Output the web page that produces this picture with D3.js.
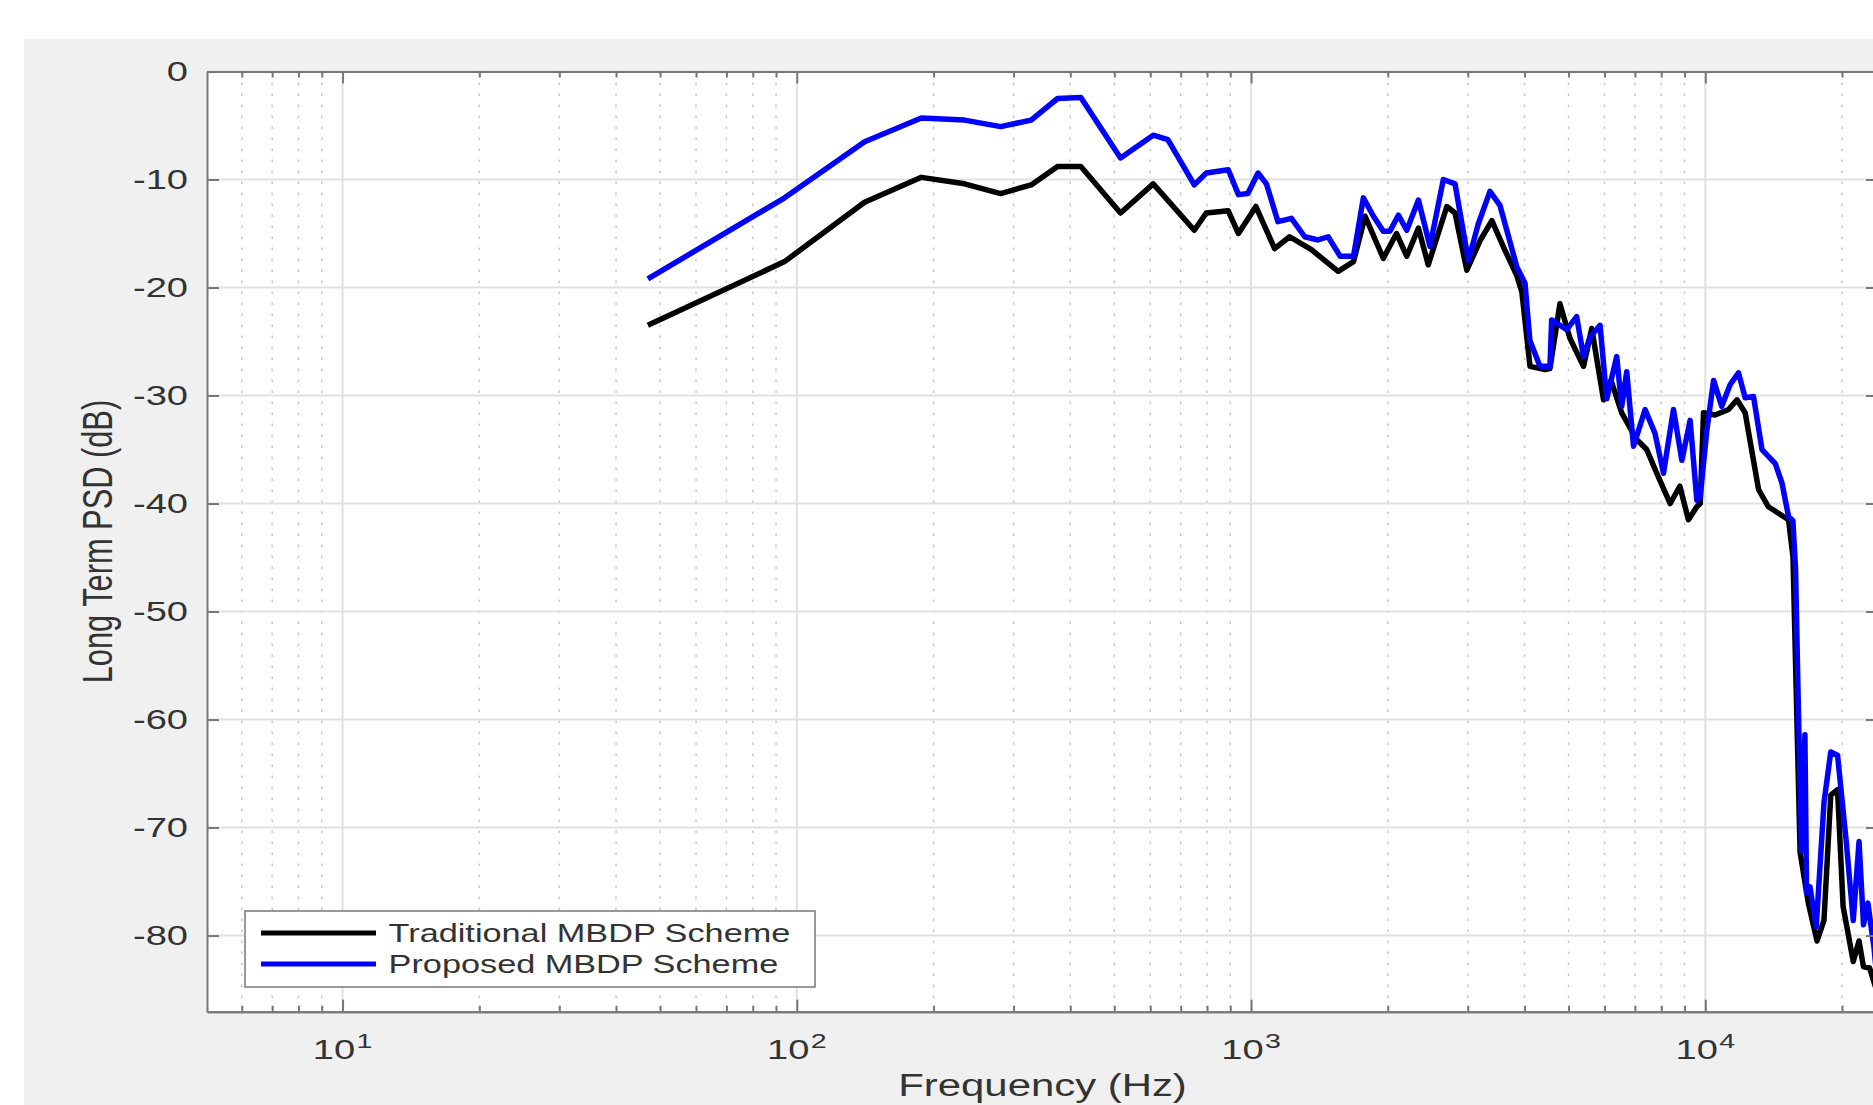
<!DOCTYPE html>
<html>
<head>
<meta charset="utf-8">
<script src="https://cdn.jsdelivr.net/npm/d3@7"></script>
<style>
  body { margin: 0; background: #fff; }
  svg { display: block; font-family: "Liberation Sans", Arial, Helvetica, sans-serif; }
</style>
</head>
<body>
<svg width="1873" height="1105"></svg>
<script>
// values (Hz, dB)
// traditional scheme (black)
var tradFreq = [47, 94, 141, 188, 234, 281, 328, 375, 422, 516,
  609, 750, 797, 891, 938, 1025, 1127, 1216, 1358, 1555,
  1681, 1783, 1955, 2090, 2202, 2336, 2455, 2698, 2812, 2985,
  3199, 3390, 3590, 3847, 3946, 4113, 4437, 4550, 4786, 5035,
  5394, 5623, 5970, 6200, 6546, 7070, 7430, 7820, 8370, 8790,
  9180, 9580, 9745, 9910, 10510, 11250, 11740, 12240, 13100, 13770,
  14490, 15250, 15600, 16170, 16860, 17620, 18250, 18890, 19550, 20110,
  21170, 21800, 22300, 23000, 24000];
var tradPsd = [-23.5, -17.6, -12.1, -9.8, -10.4, -11.3, -10.5, -8.8, -8.8, -13.1,
  -10.4, -14.7, -13.1, -12.9, -15.0, -12.5, -16.4, -15.3, -16.5, -18.5,
  -17.6, -13.4, -17.3, -15.0, -17.1, -14.5, -17.9, -12.5, -13.1, -18.4,
  -15.6, -13.8, -16.2, -18.9, -20.4, -27.3, -27.6, -27.5, -21.5, -24.7,
  -27.3, -23.8, -30.4, -28.6, -31.6, -34.1, -35.0, -37.2, -40.0, -38.4,
  -41.5, -40.3, -40.0, -31.6, -31.8, -31.3, -30.4, -31.6, -38.7, -40.3,
  -40.9, -41.5, -45.0, -72.3, -77.0, -80.5, -78.6, -67.0, -66.5, -77.3,
  -82.4, -80.5, -82.9, -83.0, -85.5];

// proposed scheme (blue)
var propFreq = [47, 94, 141, 188, 234, 281, 328, 375, 422, 516,
  609, 656, 750, 797, 891, 938, 984, 1036, 1081, 1146,
  1227, 1313, 1404, 1478, 1571, 1681, 1767, 1860, 1955, 2022,
  2110, 2202, 2336, 2477, 2650, 2812, 3009, 3165, 3357, 3532,
  3656, 3847, 4010, 4110, 4325, 4550, 4590, 4786, 4955, 5210,
  5394, 5575, 5866, 6067, 6382, 6546, 6715, 6950, 7370, 7750,
  8090, 8510, 8880, 9260, 9580, 9745, 10080, 10430, 10870, 11340,
  11830, 12240, 12770, 13330, 14260, 14750, 15250, 15590, 15800, 16060,
  16290, 16570, 16710, 17000, 17550, 18250, 18890, 19550, 20420, 21170,
  21800, 22300, 22800, 23500, 24000];
var propPsd = [-19.2, -11.7, -6.5, -4.3, -4.5, -5.1, -4.5, -2.5, -2.4, -8.0,
  -5.9, -6.3, -10.5, -9.4, -9.1, -11.4, -11.3, -9.4, -10.4, -13.9,
  -13.6, -15.3, -15.6, -15.3, -17.1, -17.1, -11.7, -13.4, -14.8, -14.8,
  -13.3, -14.7, -11.9, -16.2, -10.0, -10.4, -17.5, -14.1, -11.1, -12.4,
  -14.7, -18.1, -19.6, -24.9, -27.3, -27.3, -23.0, -23.5, -23.9, -22.7,
  -26.4, -24.6, -23.5, -30.3, -26.4, -31.0, -27.8, -34.7, -31.3, -33.5,
  -37.2, -31.3, -36.0, -32.3, -39.7, -39.4, -33.2, -28.6, -31.0, -29.0,
  -27.9, -30.2, -30.1, -35.0, -36.3, -38.1, -41.2, -41.6, -46.0, -60.7,
  -72.2, -61.4, -76.0, -75.5, -79.2, -67.7, -63.0, -63.3, -71.2, -78.6,
  -71.3, -79.0, -77.0, -81.0, -85.0];

var seriesNames = ["Traditional MBDP Scheme", "Proposed MBDP Scheme"];

// axis ticks
var yTicks = [0, -10, -20, -30, -40, -50, -60, -70, -80];
var xMajor = [10, 100, 1000, 10000];
var xExp = ["1", "2", "3", "4"];
var xMinor = [6, 7, 8, 9, 20, 30, 40, 50, 60, 70, 80, 90, 200, 300, 400, 500, 600, 700, 800, 900,
  2000, 3000, 4000, 5000, 6000, 7000, 8000, 9000, 20000];

var svg = d3.select("svg"),
    W = +svg.attr("width"),
    H = +svg.attr("height");

// plot box (right side runs just past the picture edge)
var boxL = 207, boxR = 1878, boxT = 71.5, boxB = 1011.7;
var sx = 1.36;           // the original picture is stretched sideways
var textCol = "#333", axisCol = "#777";
var lineW = 5.5;

var x = d3.scaleLog().domain([5.03, 24000]).range([boxL, boxR]);
var y = d3.scaleLinear().domain([-87.05, 0]).range([boxB, boxT]);

//figure background
svg.append("rect").attr("x", 24).attr("y", 39)
    .attr("width", W - 24).attr("height", H - 39).attr("fill", "#f0f0f0");

svg.append("rect").attr("x", boxL).attr("y", boxT)
    .attr("width", boxR - boxL).attr("height", boxB - boxT).attr("fill", "#fff");

//minor grid (dotted, x only)
svg.append("g").selectAll("line").data(xMinor).enter().append("line")
    .attr("x1", function(d) { return x(d); }).attr("x2", function(d) { return x(d); })
    .attr("y1", boxT).attr("y2", boxB)
    .attr("stroke", "#c6c6c6").attr("stroke-width", 1.5)
    .attr("stroke-dasharray", "2.5,8.5");

//major grid
var grid = svg.append("g").attr("stroke", "#e1e1e1").attr("stroke-width", 2);
grid.selectAll("line.gx").data(xMajor).enter().append("line")
    .attr("x1", function(d) { return x(d); }).attr("x2", function(d) { return x(d); })
    .attr("y1", boxT).attr("y2", boxB);
grid.selectAll("line.gy").data(yTicks).enter().append("line")
    .attr("x1", boxL).attr("x2", boxR)
    .attr("y1", function(d) { return y(d); }).attr("y2", function(d) { return y(d); });

//lines
svg.append("defs").append("clipPath").attr("id", "clip")
  .append("rect").attr("x", boxL).attr("y", boxT)
    .attr("width", boxR - boxL).attr("height", boxB - boxT);

var line = d3.line()
    .x(function(d) { return x(d[0]); })
    .y(function(d) { return y(d[1]); });

var plot = svg.append("g").attr("clip-path", "url(#clip)");
plot.append("path")
    .datum(d3.zip(tradFreq, tradPsd))
    .attr("fill", "none").attr("stroke", "#000").attr("stroke-width", lineW)
    .attr("stroke-linejoin", "round")
    .attr("d", line);
plot.append("path")
    .datum(d3.zip(propFreq, propPsd))
    .attr("fill", "none").attr("stroke", "#0000ff").attr("stroke-width", lineW)
    .attr("stroke-linejoin", "round")
    .attr("d", line);

//axes, ticks pointing inward
function styleAxis(g) {
  g.select(".domain").attr("stroke", axisCol).attr("stroke-width", 2);
  g.selectAll(".tick line").attr("stroke", axisCol).attr("stroke-width", 2);
}

svg.append("g").attr("transform", "translate(0," + boxB + ")")
    .call(d3.axisBottom(x).tickValues(xMajor).tickSize(-12).tickSizeOuter(0).tickFormat(""))
    .call(styleAxis);
svg.append("g").attr("transform", "translate(0," + boxB + ")")
    .call(d3.axisBottom(x).tickValues(xMinor).tickSize(-6).tickSizeOuter(0).tickFormat(""))
    .call(styleAxis);
svg.append("g").attr("transform", "translate(0," + boxT + ")")
    .call(d3.axisTop(x).tickValues(xMajor).tickSize(-12).tickSizeOuter(0).tickFormat(""))
    .call(styleAxis);
svg.append("g").attr("transform", "translate(0," + boxT + ")")
    .call(d3.axisTop(x).tickValues(xMinor).tickSize(-6).tickSizeOuter(0).tickFormat(""))
    .call(styleAxis);
svg.append("g").attr("transform", "translate(" + boxR + ",0)")
    .call(d3.axisRight(y).tickValues(yTicks).tickSize(-12).tickSizeOuter(0).tickFormat(""))
    .call(styleAxis);

var yAxis = svg.append("g").attr("transform", "translate(" + boxL + ",0)")
    .call(d3.axisLeft(y).tickValues(yTicks).tickSize(-12).tickSizeOuter(0).tickPadding(19)
      .tickFormat(function(d) { return String(d); }))
    .call(styleAxis);
yAxis.attr("font-family", null).attr("font-size", null);
yAxis.selectAll(".tick text")
    .attr("fill", textCol).attr("font-size", 28)
    .attr("x", -19 / sx)
    .attr("transform", "scale(" + sx + ",1)");

// x tick labels 10^n
var xl = svg.append("g").selectAll("text").data(xMajor).enter().append("text")
    .attr("transform", function(d) { return "translate(" + x(d) + ",1059) scale(" + sx + ",1)"; })
    .attr("text-anchor", "middle").attr("fill", textCol).attr("font-size", 28);
xl.append("tspan").text("10");
xl.append("tspan").attr("dy", -11).attr("dx", 1).attr("font-size", 21)
    .text(function(d, i) { return xExp[i]; });

//axis labels
svg.append("text")
    .attr("transform", "translate(" + ((boxL + boxR) / 2) + ",1096) scale(" + sx + ",1)")
    .attr("text-anchor", "middle").attr("fill", textCol).attr("font-size", 30.8)
    .text("Frequency (Hz)");

svg.append("text")
    .attr("transform", "translate(111.7," + ((boxT + boxB) / 2) + ") scale(" + sx + ",1) rotate(-90)")
    .attr("text-anchor", "middle").attr("fill", textCol).attr("font-size", 30.8)
    .text("Long Term PSD (dB)");

//legend
var legend = svg.append("g");
legend.append("rect").attr("x", 245).attr("y", 911).attr("width", 570).attr("height", 76)
    .attr("fill", "#fff").attr("stroke", axisCol).attr("stroke-width", 1.5);
var legendCol = ["#000", "#0000ff"];
var item = legend.selectAll("g.item").data(seriesNames).enter().append("g")
    .attr("transform", function(d, i) { return "translate(0," + (933 + i * 31) + ")"; });
item.append("line").attr("x1", 261).attr("x2", 376).attr("y1", 0).attr("y2", 0)
    .attr("stroke", function(d, i) { return legendCol[i]; }).attr("stroke-width", 5);
item.append("text")
    .attr("transform", "translate(388.6,9) scale(" + sx + ",1)")
    .attr("fill", textCol).attr("font-size", 25.2)
    .text(function(d) { return d; });
</script>
</body>
</html>
